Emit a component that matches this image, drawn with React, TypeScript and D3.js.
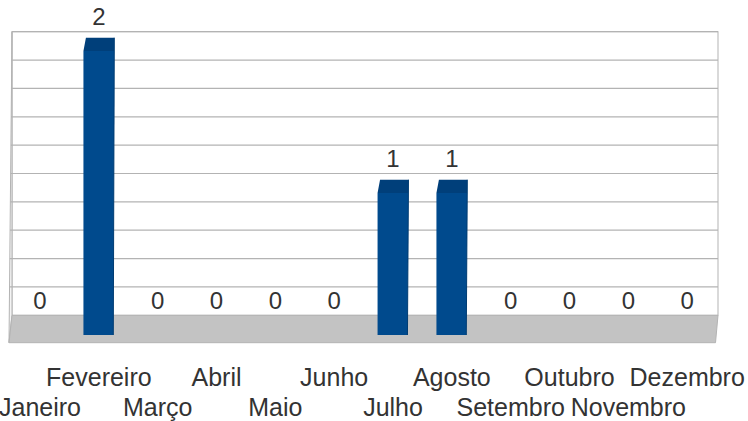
import React from "react";
import * as d3 from "d3";

// Monthly counts
const months = [
  "Janeiro", "Fevereiro", "Março", "Abril", "Maio", "Junho",
  "Julho", "Agosto", "Setembro", "Outubro", "Novembro", "Dezembro",
];
const counts = [0, 2, 0, 0, 0, 0, 1, 1, 0, 0, 0, 0];
const valueDomain = [0, 2];

const W = 748;
const H = 421;

// Oblique 3D frame: back wall, floor depth and left wall
const back = { left: 12, right: 718, top: 31.7, bottom: 315.3 };
const floorFront = { left: 9, right: 715.5, y: 342.7 };
const depthTop = 13.3; // height of bar top faces

const FONT = "'Liberation Sans', Arial, sans-serif";
const TEXT = "#333333";
const GRID = "#b3b3b3";

export default function App() {
  const x = d3
    .scaleBand<string>()
    .domain(months)
    .range([10.6, 716.6])
    .padding(0);

  const yBack = d3.scaleLinear().domain(valueDomain).range([back.bottom, back.top]);
  const yFront = d3.scaleLinear().domain(valueDomain).range([335, 51]);

  const barW = x.bandwidth() * 0.525;
  const ticks = yBack.ticks(10).filter((t) => t > 0);

  // x of the slanted left-wall edge at a given height
  const wallX = (y: number) =>
    back.left - ((back.left - floorFront.left) * (y - back.top)) / (floorFront.y - back.top);

  const pts = (p: number[][]) => p.map((q) => q.join(",")).join(" ");

  return (
    <div style={{ position: "fixed", left: 0, top: 0, width: W, height: H, background: "#fff" }}>
      <svg width={W} height={H} style={{ display: "block" }} fontFamily={FONT}>
        {/* back wall */}
        <rect
          x={back.left}
          y={back.top}
          width={back.right - back.left}
          height={back.bottom - back.top}
          fill="#ffffff"
          stroke={GRID}
          strokeWidth={1}
        />
        {/* left wall */}
        <polygon
          points={pts([
            [back.left, back.top],
            [back.left, back.bottom],
            [floorFront.left, floorFront.y],
          ])}
          fill="#f4f4f4"
          stroke={GRID}
          strokeWidth={1}
        />
        {/* gridlines */}
        {ticks.map((t) => (
          <line
            key={t}
            x1={wallX(yBack(t))}
            x2={back.right}
            y1={yBack(t)}
            y2={yBack(t)}
            stroke={GRID}
            strokeWidth={1.2}
          />
        ))}
        {/* floor */}
        <polygon
          points={pts([
            [back.left, back.bottom],
            [back.right, back.bottom],
            [floorFront.right, floorFront.y],
            [floorFront.left, floorFront.y],
          ])}
          fill="#c3c3c3"
          stroke={GRID}
          strokeWidth={1}
        />

        {/* bars */}
        {months.map((m, i) => {
          const v = counts[i];
          if (v <= 0) return null;
          const cx = (x(m) as number) + x.bandwidth() / 2;
          const x0 = cx - barW / 2;
          const x1 = cx + barW / 2;
          const yt = yFront(v);
          const yb = yFront(0);
          return (
            <g key={m}>
              <polygon
                points={pts([
                  [x0, yt],
                  [x0 + 2.5, yt - depthTop],
                  [x1, yt - depthTop],
                  [x1, yt],
                ])}
                fill="#003f7a"
              />
              <polygon
                points={pts([
                  [x0, yt],
                  [x1, yt],
                  [x1 - 1, yb],
                  [x0, yb],
                ])}
                fill="#004a8d"
              />
              <line x1={x1} x2={x1 - 1} y1={yt - depthTop} y2={yb} stroke="#003c72" strokeWidth={1} />
            </g>
          );
        })}

        {/* value labels */}
        {months.map((m, i) => {
          const cx = (x(m) as number) + x.bandwidth() / 2;
          return (
            <text
              key={m}
              x={cx}
              y={yFront(counts[i]) - depthTop - 12.5}
              textAnchor="middle"
              fontSize={24}
              fill={TEXT}
            >
              {counts[i]}
            </text>
          );
        })}

        {/* category labels, staggered in two rows */}
        {months.map((m, i) => {
          const cx = (x(m) as number) + x.bandwidth() / 2;
          return (
            <text
              key={m}
              x={cx}
              y={i % 2 === 1 ? 386 : 415.5}
              textAnchor="middle"
              fontSize={25}
              fill={TEXT}
            >
              {m}
            </text>
          );
        })}
      </svg>
    </div>
  );
}
